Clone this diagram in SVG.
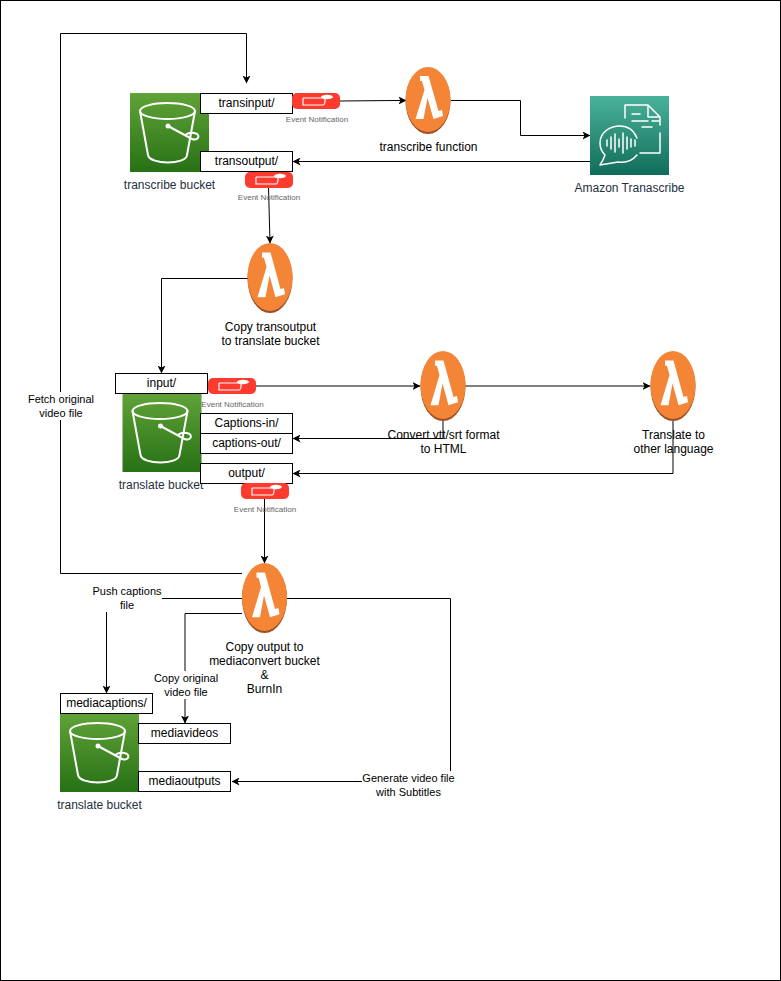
<svg xmlns="http://www.w3.org/2000/svg" xmlns:xlink="http://www.w3.org/1999/xlink" width="781" height="981" viewBox="0 0 781 981">
<style>
text{font-family:"Liberation Sans",Arial,sans-serif;font-size:12px;fill:#000;text-anchor:middle}
.svc{fill:#232F3E}
.lab{font-size:11px}
.en{font-size:8px;fill:#666}
.box{fill:#fff;stroke:#000;stroke-width:1}
.c{fill:none;stroke:#000;stroke-width:1}
.w{fill:none;stroke:#fff;stroke-linecap:round;stroke-linejoin:round}
.mask{fill:#fff}
</style>
<defs>
<linearGradient id="gb" x1="0" y1="0" x2="0" y2="1"><stop offset="0" stop-color="#60A337"/><stop offset="1" stop-color="#277116"/></linearGradient>
<linearGradient id="gt" x1="0" y1="0" x2="0" y2="1"><stop offset="0" stop-color="#4AB29A"/><stop offset="1" stop-color="#116D5B"/></linearGradient>
<marker id="a" viewBox="0 0 8 8" refX="7.500" refY="4" markerWidth="8" markerHeight="8" orient="auto" markerUnits="userSpaceOnUse"><path d="M0 0L8 4L0 8L2 4Z" fill="#000"/></marker>
<symbol id="bucket" viewBox="0 0 79 79" overflow="visible">
<rect width="79" height="79" fill="url(#gb)"/>
<g class="w" stroke-width="2">
<ellipse cx="37.500" cy="18" rx="27.500" ry="8"/>
<path d="M10 18L18 62C20 72 56 72 57 62L65 18"/>
<path d="M38 33L62 46C68 48 70 43 67 41C63 39 58 40 55 42"/>
</g>
<circle cx="38" cy="33" r="2.500" fill="#fff"/>
</symbol>
<symbol id="lambda" viewBox="0 0 45 67" preserveAspectRatio="none" overflow="visible">
<ellipse cx="22.500" cy="34" rx="22.500" ry="33" fill="#9D5025"/>
<ellipse cx="22.500" cy="32.500" rx="22.500" ry="32.500" fill="#F58536"/>
<path d="M14.500 9H23L33 44L36.500 43L37.500 49L28 52L22 31L18 52H10L19 23L16.500 14H14.500Z" fill="#fff"/>
</symbol>
<symbol id="event" viewBox="0 0 48 16" overflow="visible">
<rect width="48" height="16" rx="5" fill="#FF3B30"/>
<path d="M11 5H33M33 5V8C33 10 32 12 31 12H11V5" fill="none" stroke="#fff" stroke-width="1.200"/>
<ellipse cx="35" cy="4" rx="6" ry="2.200" fill="#fff"/>
</symbol>
</defs>
<rect x="0.500" y="0.500" width="780" height="980" fill="#fff" stroke="#000"/>

<g id="connectors">
<path class="c" marker-end="url(#a)" d="M242 573.500H60.500V33.500H246.500V83"/>
<path class="c" marker-end="url(#a)" d="M340 101L395 100.500H406"/>
<path class="c" marker-end="url(#a)" d="M451 100.500H520.500V135.500H590"/>
<path class="c" marker-end="url(#a)" d="M590 161.500H293"/>
<path class="c" marker-end="url(#a)" d="M268.500 187L270 243"/>
<path class="c" marker-end="url(#a)" d="M248 278.500H161.500V373"/>
<path class="c" marker-end="url(#a)" d="M256 386H420"/>
<path class="c" marker-end="url(#a)" d="M465 386H650"/>
<path class="c" marker-end="url(#a)" d="M443 421V438.500H293"/>
<path class="c" marker-end="url(#a)" d="M673 421V473.500H293"/>
<path class="c" marker-end="url(#a)" d="M264.500 499V563"/>
<path class="c" marker-end="url(#a)" d="M242 598.500H106.500V693"/>
<path class="c" marker-end="url(#a)" d="M242 613.500H185V723"/>
<path class="c" marker-end="url(#a)" d="M287 598.500H450.500V781.500H232"/>
</g>

<g id="label-fetch"><rect class="mask" x="27" y="392" width="68" height="28"/><text class="lab" x="61" y="403">Fetch original</text><text class="lab" x="61" y="417">video file</text></g>
<g id="label-push"><rect class="mask" x="92" y="584" width="70" height="28"/><text class="lab" x="127" y="595">Push captions</text><text class="lab" x="127" y="609">file</text></g>
<g id="label-copy"><rect class="mask" x="153" y="671" width="66" height="28"/><text class="lab" x="186" y="682">Copy original</text><text class="lab" x="186" y="696">video file</text></g>
<g id="label-generate"><rect class="mask" x="362" y="771" width="93" height="28"/><text class="lab" x="408.500" y="782">Generate video file</text><text class="lab" x="408.500" y="796">with Subtitles</text></g>

<g id="transcribe-bucket"><use href="#bucket" x="130" y="93" width="79" height="79"/><text class="svc" x="169.500" y="189">transcribe bucket</text></g>
<g id="transinput"><rect class="box" x="200.500" y="93.500" width="92" height="20"/><text x="246.500" y="107">transinput/</text></g>
<g id="transoutput"><rect class="box" x="200.500" y="151.500" width="92" height="20"/><text x="246.500" y="165">transoutput/</text></g>
<g id="event-1"><use href="#event" x="292" y="93" width="48" height="16"/><text class="en" x="317" y="122">Event Notification</text></g>
<g id="event-2"><use href="#event" x="245" y="172" width="48" height="16"/><text class="en" x="269" y="200">Event Notification</text></g>
<g id="transcribe-function"><use href="#lambda" x="405.500" y="67" width="45" height="67"/><text x="428.500" y="151">transcribe function</text></g>
<g id="amazon-transcribe">
<rect x="590" y="96" width="79" height="79" fill="url(#gt)"/>
<g class="w" stroke-width="1.500" transform="translate(590 96)">
<path d="M35 22V9H58L70 21V29M58 9V21H70M42 18H50M42 25H58M62 25H70M52 31H62M70 37V57H50"/>
<path d="M47 59C42 65 35 67 28 66C22 67 16 68 10 69C12 66 14 62 15 59C12 56 10 52 10 47C10 37 19 30 30 30C38 30 44 35 47 42"/>
<path d="M17 44V50M21 41V53M25 38V56M29 43V51M33 37V57M37 41V53M41 43V51M45 44V50"/>
</g>
<text class="svc" x="629.500" y="192">Amazon Tranascribe</text>
</g>
<g id="copy-transoutput"><use href="#lambda" x="247.500" y="243" width="45" height="70"/><text x="270.500" y="331">Copy transoutput</text><text x="270.500" y="345">to translate bucket</text></g>

<g id="translate-bucket"><use href="#bucket" x="122.500" y="393" width="79" height="79"/><text class="svc" x="161" y="489">translate bucket</text></g>
<g id="input"><rect class="box" x="115.500" y="373.500" width="92" height="20"/><text x="161.500" y="387">input/</text></g>
<g id="captions-in"><rect class="box" x="200.500" y="413.500" width="92" height="20"/><text x="246.500" y="427">Captions-in/</text></g>
<g id="captions-out"><rect class="box" x="200.500" y="433.500" width="92" height="20"/><text x="246.500" y="447">captions-out/</text></g>
<g id="output"><rect class="box" x="200.500" y="463.500" width="92" height="20"/><text x="246.500" y="477">output/</text></g>
<g id="event-3"><use href="#event" x="208" y="378" width="48" height="16"/><text class="en" x="232.500" y="407">Event Notification</text></g>
<g id="event-4"><use href="#event" x="241" y="483" width="48" height="16"/><text class="en" x="265" y="512">Event Notification</text></g>
<g id="convert"><use href="#lambda" x="420.500" y="351" width="45" height="70"/><text x="443.500" y="439">Convert vtt/srt format</text><text x="443.500" y="453">to HTML</text></g>
<g id="translate"><use href="#lambda" x="650.500" y="351" width="45" height="70"/><text x="673.500" y="439">Translate to</text><text x="673.500" y="453">other language</text></g>
<g id="burnin"><use href="#lambda" x="242" y="563" width="45" height="70"/><text x="264.500" y="651">Copy output to</text><text x="264.500" y="665">mediaconvert bucket</text><text x="264.500" y="679">&amp;</text><text x="264.500" y="693">BurnIn</text></g>

<g id="media-bucket"><use href="#bucket" x="60" y="713" width="79" height="79"/><text class="svc" x="99.500" y="809">translate bucket</text></g>
<g id="mediacaptions"><rect class="box" x="60.500" y="693.500" width="92" height="20"/><text x="106.500" y="707">mediacaptions/</text></g>
<g id="mediavideos"><rect class="box" x="138.500" y="723.500" width="92" height="20"/><text x="184.500" y="737">mediavideos</text></g>
<g id="mediaoutputs"><rect class="box" x="138.500" y="771.500" width="92" height="20"/><text x="184.500" y="785">mediaoutputs</text></g>
</svg>
